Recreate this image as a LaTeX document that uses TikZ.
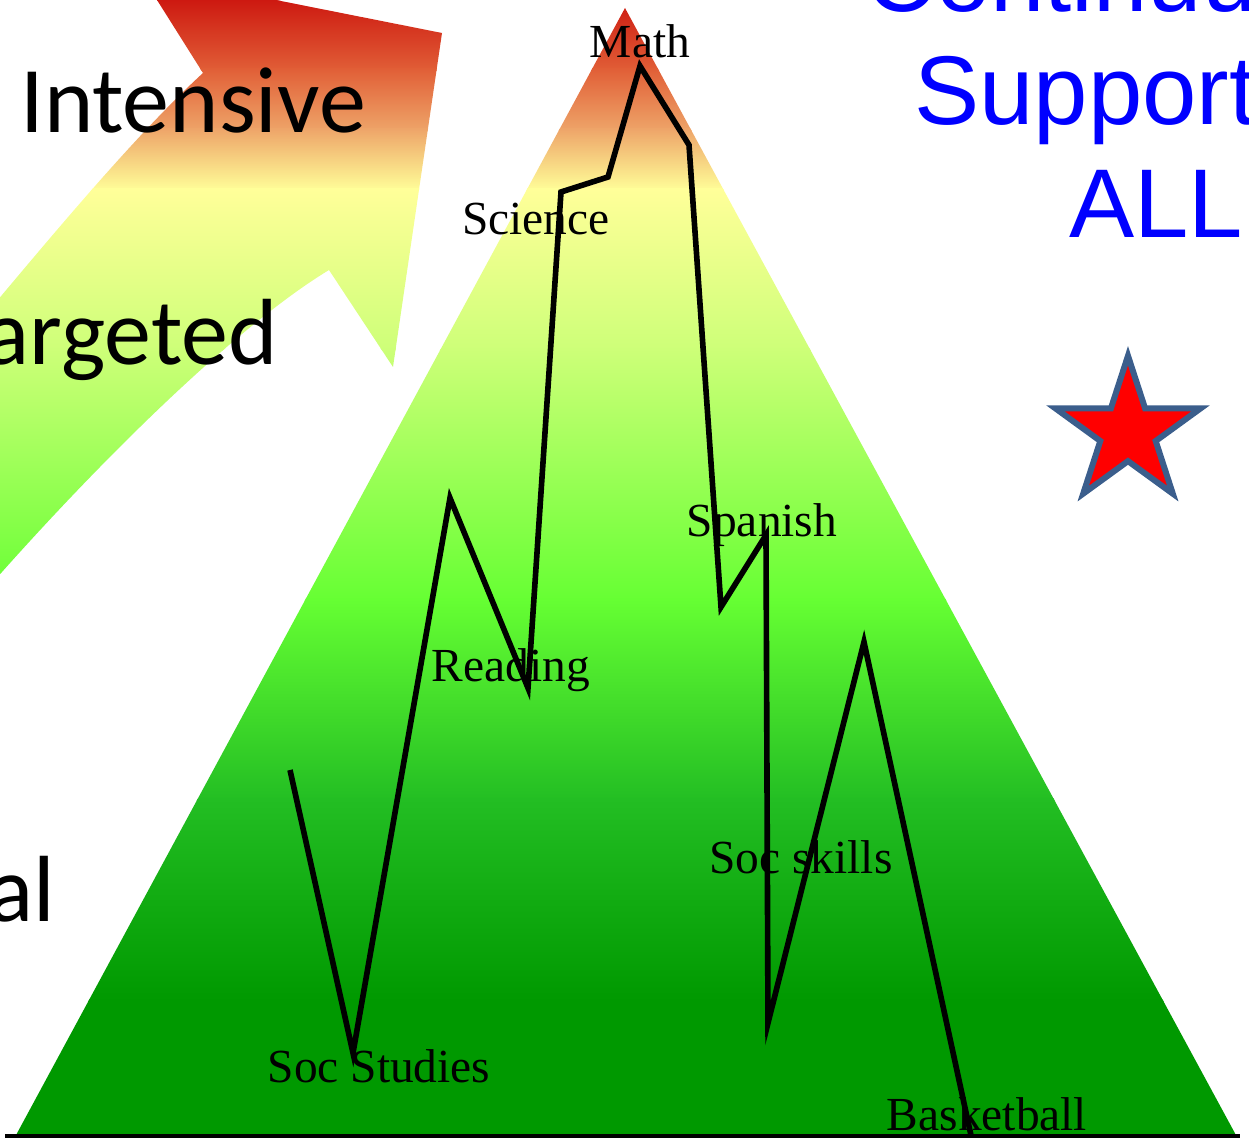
\documentclass[tikz,border=0pt]{standalone}
\usepackage{fontspec}
\usepackage{tikz}
\usetikzlibrary{shapes.geometric}
\newfontfamily\tierfont{Carlito}
\newfontfamily\supportfont{Liberation Sans}
\newfontfamily\subjectfont{Liberation Serif}
\definecolor{rtired}{RGB}{205,24,16}
\definecolor{rtiorange}{RGB}{225,95,55}
\definecolor{rtipeach}{RGB}{238,165,105}
\definecolor{rtiyellow}{RGB}{255,255,153}
\definecolor{rtilime}{RGB}{205,255,120}
\definecolor{rtigreen}{RGB}{102,255,51}
\definecolor{rtimid}{RGB}{35,190,35}
\definecolor{rtidark}{RGB}{0,153,0}
\definecolor{starblue}{RGB}{59,94,140}
\definecolor{supportblue}{RGB}{0,0,255}
% colour bands, top to bottom (pixels)
\newcommand{\tierbands}{%
  \foreach \ytop/\ybot/\ctop/\cbot in {-60/0/rtired/rtired, 0/70/rtired/rtiorange,
      70/130/rtiorange/rtipeach, 130/190/rtipeach/rtiyellow, 190/350/rtiyellow/rtilime,
      350/600/rtilime/rtigreen, 600/800/rtigreen/rtimid, 800/1000/rtimid/rtidark,
      1000/1200/rtidark/rtidark}
    \shade[top color=\ctop, bottom color=\cbot] (-100,-\ytop+1) rectangle (1350,-\ybot-1);
}

\begin{document}
\begin{tikzpicture}[x=0.02cm, y=0.02cm,
  tier/.style={font=\tierfont\fontsize{53.5}{60}\selectfont, inner sep=0pt},
  support/.style={font=\supportfont\fontsize{55.6}{64}\selectfont, text=supportblue, inner sep=0pt},
  subject/.style={font=\subjectfont\fontsize{27}{30}\selectfont, inner sep=0pt, anchor=base},
  zigzag/.style={line width=3.2pt, black},
]
\useasboundingbox (0,0) rectangle (1249,-1138);
\clip (0,0) rectangle (1249,-1138);
% --- curved arrow ---
\begin{scope}
  \clip (140,27) -- (442,-33) -- (393,-367) -- (329,-270)
    .. controls (230,-330) and (80,-480) .. (-40,-620) -- (-40,-345)
    .. controls (40,-250) and (130,-140) .. (203,-73) -- cycle;
  \tierbands
\end{scope}
% --- pyramid ---
\begin{scope}
  \clip (15,-1137) -- (625,-8) -- (1237,-1137) -- cycle;
  \tierbands
\end{scope}
\coordinate (floorL) at (5,-1136);
\coordinate (floorR) at (1240,-1136);
\draw[line width=2pt] (floorL) -- (floorR);
% --- tiers ---
\node[tier, anchor=base west] (intensive) at (20,-133) {Intensive};
\node[tier, anchor=base east] (targeted) at (278,-365) {Targeted};
\node[tier, anchor=base east] (universal) at (55,-922) {Universal};
% --- continuum ---
\node[support, anchor=base] (continuum) at (1156,-12) {Continuum of};
\node[support, anchor=base] (supportfor) at (1156,-125) {Support for};
\node[support, anchor=base] (all) at (1156,-238) {ALL};
\node[star, star points=5, star point ratio=2.618, minimum size=3.05cm, inner sep=0pt,
  fill=red, draw=starblue, line width=3.4pt] (star) at (1128,-432) {};
% --- student profile ---
\coordinate (z1) at (290,-770);
\coordinate (z2) at (353,-1053);
\coordinate (z3) at (450,-498);
\coordinate (z4) at (528,-688);
\coordinate (z5) at (561,-192);
\coordinate (z6) at (608,-177);
\coordinate (z7) at (640,-66);
\coordinate (z8) at (689,-145);
\coordinate (z9) at (721,-607);
\coordinate (z10) at (766,-535);
\coordinate (z11) at (768,-1023);
\coordinate (z12) at (864,-642);
\coordinate (z13) at (972,-1140);
\draw[zigzag] (z1) -- (z2) -- (z3) -- (z4) -- (z5) -- (z6) -- (z7) -- (z8) -- (z9)
  -- (z10) -- (z11) -- (z12) -- (z13);
\node[subject] (math) at (640,-58) {Math};
\node[subject] (science) at (536,-235) {Science};
\node[subject] (reading) at (511,-682) {Reading};
\node[subject] (spanish) at (762,-537) {Spanish};
\node[subject] (socskills) at (801,-873) {Soc skills};
\node[subject] (socstudies) at (379,-1082) {Soc Studies};
\node[subject] (basketball) at (987,-1130) {Basketball};
\end{tikzpicture}
\end{document}
